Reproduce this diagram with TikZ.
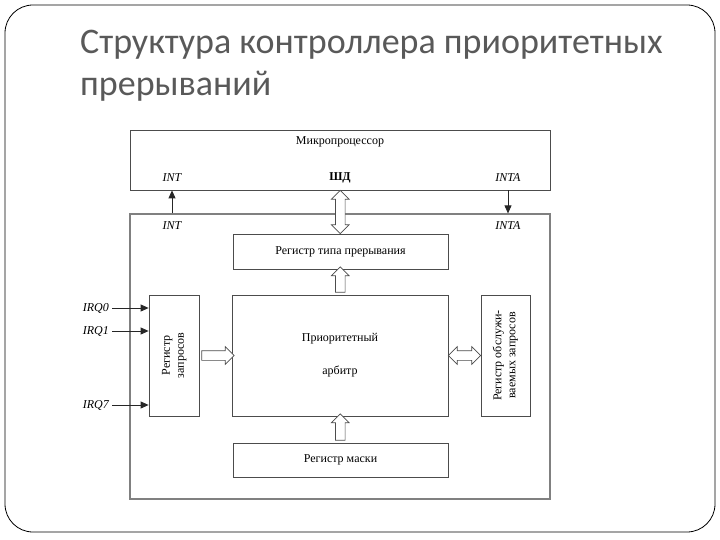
\documentclass[tikz,border=0pt]{standalone}
\usepackage{fontspec}
\usepackage{graphicx}
\setmainfont{Liberation Serif}
\newfontfamily\titlefont{Carlito}
\usetikzlibrary{positioning,arrows.meta,calc,shapes.arrows}

% hollow bus arrow between two anchors
\newcommand\buslink[3][single arrow]{%
    \path let \p1=(#2), \p2=(#3), \n1={veclen(\x2-\x1,\y2-\y1)},
        \n2={mod(round(atan2(\y2-\y1,\x2-\x1))+360,360)} in
        node[#1, hollow, minimum height=\n1, shape border rotate=\n2] at ($(#2)!0.5!(#3)$) {};}

\begin{document}
\begin{tikzpicture}[x=1pt,y=-1pt,
    blk/.style={draw=black!70, line width=0.8pt, inner sep=0pt, align=center, font=\fontsize{12}{14}\selectfont},
    sig/.style={draw=black!85, line width=0.8pt, -{Triangle[length=8pt,width=7pt]}},
    hollow/.style={draw=black!70, line width=0.7pt, fill=white, inner sep=4.5pt, outer sep=0pt,
        single arrow head extend=4pt, double arrow head extend=4pt,
        single arrow head indent=0pt},
    lbl/.style={font=\fontsize{12}{14}\selectfont\itshape, inner sep=1pt},
    ttl/.style={font=\titlefont\fontsize{36}{44}\selectfont, text=black!65, inner sep=0pt, anchor=base west}]

    \useasboundingbox (0,0) rectangle (720,540);
    \draw[rounded corners=28pt, line width=0.8pt] (5,5) rectangle (715,532);

    % title
    \node[ttl] (title1) at (80,54) {Структура контроллера приоритетных};
    \node[ttl] (title2) at (80,96) {прерываний};

    % microprocessor
    \node[blk, minimum width=420pt, minimum height=60pt] (mp) at (340,160) {};
    \node[font=\fontsize{12}{14}\selectfont] (mpname) at (340,142) {Микропроцессор};
    \node[lbl] (intout) at (172,178) {INT};
    \node[font=\fontsize{12}{14}\selectfont\bfseries] (bus) at (340,178) {ШД};
    \node[lbl] (intaout) at (508,178) {INTA};

    % controller
    \node[blk, draw=black!50, line width=1.2pt, minimum width=420pt, minimum height=285pt] (ctrl) at (340,356.5) {};
    \node[lbl] (intin) at (172,226) {INT};
    \node[lbl] (intain) at (508,226) {INTA};

    \node[blk, minimum width=215pt, minimum height=35pt] (typereg) at (340.5,251.5) {Регистр типа прерывания};
    \node[blk, minimum width=216pt, minimum height=121pt] (arb) at (340,355.5) {Приоритетный\\[19pt]арбитр};
    \node[blk, minimum width=215pt, minimum height=34pt] (maskreg) at (340.5,460) {Регистр маски};
    \node[blk, minimum width=50pt, minimum height=121pt] (reqreg) at (174,355.5)
        {\rotatebox{90}{\begin{tabular}{@{}c@{}}Регистр\\запросов\end{tabular}}};
    \node[blk, minimum width=49pt, minimum height=121pt] (isreg) at (505.5,355.5)
        {\rotatebox{90}{\begin{tabular}{@{}c@{}}Регистр обслужи-\\ваемых запросов\end{tabular}}};

    % request lines
    \node[lbl, anchor=east] (irq0) at (110,308) {IRQ0};
    \node[lbl, anchor=east] (irq1) at (110,331) {IRQ1};
    \node[lbl, anchor=east] (irq7) at (110,405) {IRQ7};
    \foreach \q in {irq0,irq1,irq7}
        \draw[sig, shorten <=2pt] (\q.east) -- (reqreg.west |- \q.east);

    \draw[sig] (ctrl.north -| intin) -- (mp.south -| intin);
    \draw[sig] (mp.south -| intain) -- (ctrl.north -| intain);

    % internal buses
    \buslink[double arrow]{mp.south}{typereg.north}
    \buslink{arb.north}{typereg.south}
    \buslink{maskreg.north}{arb.south}
    \buslink{reqreg.east}{arb.west}
    \buslink[double arrow]{arb.east}{isreg.west}
\end{tikzpicture}
\end{document}
